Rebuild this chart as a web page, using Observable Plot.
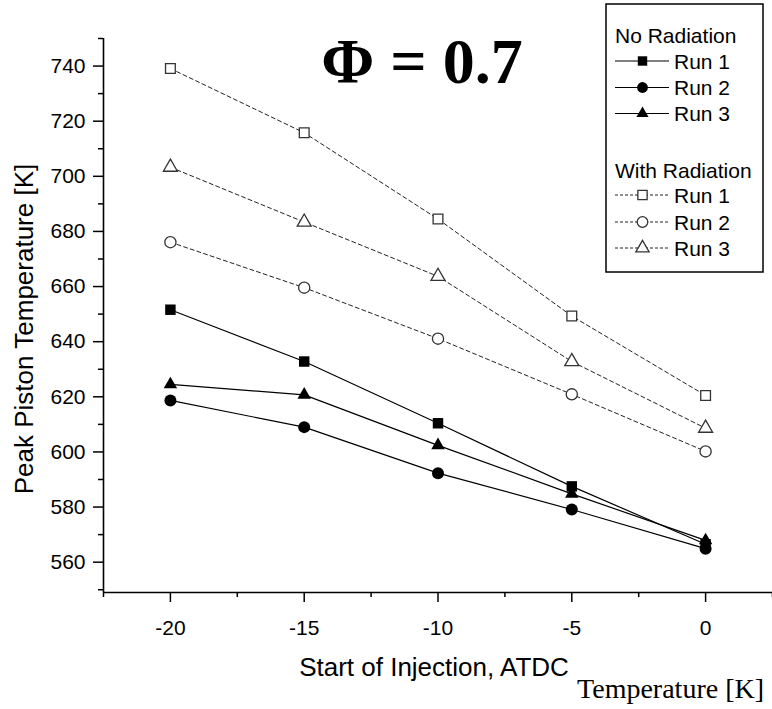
<!DOCTYPE html>
<html>
<head>
<meta charset="utf-8">
<script src="https://cdn.jsdelivr.net/npm/d3@7"></script>
<script src="https://cdn.jsdelivr.net/npm/@observablehq/plot@0.6"></script>
<style>
  html, body { margin: 0; padding: 0; background: white; }
  #wrap { position: relative; width: 772px; height: 709px; }
  #wrap > svg { position: absolute; left: 0; top: 0; }
</style>
</head>
<body>
<div id="wrap"></div>
<script>
// ---- data ----
const xs = [-20, -15, -10, -5, 0];
const noRad1 = [651.6, 632.8, 610.4, 587.5, 566.5];
const noRad2 = [618.7, 609.0, 592.3, 579.1, 564.9];
const noRad3 = [624.5, 620.7, 602.4, 584.8, 567.9];
const rad1 = [739.1, 715.8, 684.5, 649.3, 620.5];
const rad2 = [676.1, 659.6, 641.1, 620.9, 600.2];
const rad3 = [703.3, 683.4, 663.7, 632.8, 608.6];
const runs = ["Run 1", "Run 2", "Run 3"];
const groups = ["No Radiation", "With Radiation"];
const yMajor = [560, 580, 600, 620, 640, 660, 680, 700, 720, 740];
const yMinor = [550, 570, 590, 610, 630, 650, 670, 690, 710, 730, 750];
const xMajor = [-20, -15, -10, -5, 0];
const xMinor = [-22.5, -17.5, -12.5, -7.5, -2.5, 2.5];
const xDomain = [-22.5, 2.5];
const yDomain = [549, 750];
const titleText = "Φ = 0.7";
const xLabel = "Start of Injection, ATDC";
const yLabel = "Peak Piston Temperature [K]";
const captionText = "Temperature [K]";

const series = [
  {group: groups[0], run: runs[0], values: noRad1},
  {group: groups[0], run: runs[1], values: noRad2},
  {group: groups[0], run: runs[2], values: noRad3},
  {group: groups[1], run: runs[0], values: rad1},
  {group: groups[1], run: runs[1], values: rad2},
  {group: groups[1], run: runs[2], values: rad3}
];
const table = series.flatMap(s => s.values.map((v, i) => ({group: s.group, run: s.run, x: xs[i], y: v})));

const symbolOf = {"Run 1": "square", "Run 2": "circle", "Run 3": "triangle"};
const rFilled = {"Run 1": 5.9, "Run 2": 6, "Run 3": 5};
const rOpen = {"Run 1": 5.5, "Run 2": 5.6, "Run 3": 5.2};

const noRad = table.filter(d => d.group === groups[0]);
const withRad = table.filter(d => d.group === groups[1]);

const marks = [
  Plot.ruleX([xDomain[0]], {stroke: "black", strokeWidth: 1.6}),
  Plot.ruleY([yDomain[0]], {stroke: "black", strokeWidth: 1.6}),
  Plot.axisY({ticks: yMajor, tickSize: 10, tickPadding: 8, strokeWidth: 1.5, label: null, tickFormat: d => String(d)}),
  Plot.axisY({ticks: yMinor, tickSize: 5, strokeWidth: 1.5, label: null, tickFormat: () => ""}),
  Plot.axisX({ticks: xMajor, tickSize: 10, tickPadding: 18, strokeWidth: 1.5, label: null, tickFormat: d => String(d)}),
  Plot.axisX({ticks: xMinor, tickSize: 5, strokeWidth: 1.5, label: null, tickFormat: () => ""}),
  Plot.line(withRad, {x: "x", y: "y", z: "run", stroke: "#222", strokeWidth: 1, strokeDasharray: "4,3"}),
  Plot.line(noRad, {x: "x", y: "y", z: "run", stroke: "black", strokeWidth: 1.2})
];
for (const run of runs) {
  marks.push(Plot.dot(withRad.filter(d => d.run === run), {
    x: "x", y: "y", symbol: symbolOf[run], r: rOpen[run], fill: "white", stroke: "#333", strokeWidth: 1.3
  }));
}
for (const run of runs) {
  marks.push(Plot.dot(noRad.filter(d => d.run === run), {
    x: "x", y: "y", symbol: symbolOf[run], r: rFilled[run], fill: "black", stroke: "none"
  }));
}

const chart = Plot.plot({
  width: 772,
  height: 709,
  marginTop: 38,
  marginRight: 0,
  marginBottom: 117,
  marginLeft: 103,
  x: {domain: xDomain},
  y: {domain: yDomain},
  style: {fontFamily: "'Liberation Sans', Arial, sans-serif", fontSize: "21px", background: "white", color: "black", overflow: "visible"},
  marks
});
const wrap = document.getElementById("wrap");
wrap.appendChild(chart);

// ---- overlay: title, labels, legend ----
const ov = d3.select(wrap).append("svg")
  .attr("width", 772).attr("height", 709)
  .style("pointer-events", "none");

const sans = "'Liberation Sans', Arial, sans-serif";
const serif = "'Liberation Serif', 'Times New Roman', serif";

ov.append("text").text(titleText)
  .attr("x", 422).attr("y", 83).attr("text-anchor", "middle")
  .attr("font-family", serif).attr("font-weight", "bold").attr("font-size", 64);

ov.append("text").text(yLabel)
  .attr("transform", "translate(33,329) rotate(-90)").attr("text-anchor", "middle")
  .attr("font-family", sans).attr("font-size", 26);

ov.append("text").text(xLabel)
  .attr("x", 434).attr("y", 676).attr("text-anchor", "middle")
  .attr("font-family", sans).attr("font-size", 26);

ov.append("text").text(captionText)
  .attr("x", 764).attr("y", 698).attr("text-anchor", "end")
  .attr("font-family", serif).attr("font-size", 28);

// legend
const lg = ov.append("g");
lg.append("rect").attr("x", 606).attr("y", 4).attr("width", 157).attr("height", 268)
  .attr("fill", "white").attr("stroke", "black").attr("stroke-width", 1.5);

const headerY = [43, 178];
const rowY = [[61, 87.5, 113.5], [195, 222, 248]];
groups.forEach((g, gi) => {
  lg.append("text").text(g).attr("x", 615).attr("y", headerY[gi])
    .attr("font-family", sans).attr("font-size", 21);
  runs.forEach((run, ri) => {
    const cy = rowY[gi][ri];
    const filled = gi === 0;
    lg.append("line").attr("x1", 615).attr("x2", 669).attr("y1", cy).attr("y2", cy)
      .attr("stroke", filled ? "black" : "#222").attr("stroke-width", filled ? 1.2 : 1)
      .attr("stroke-dasharray", filled ? null : "3,2");
    const r = filled ? rFilled[run] * 0.9 : rOpen[run] * 0.95;
    const sym = {square: d3.symbolSquare, circle: d3.symbolCircle, triangle: d3.symbolTriangle}[symbolOf[run]];
    lg.append("path").attr("d", d3.symbol(sym, Math.PI * r * r)())
      .attr("transform", `translate(642.5,${cy})`)
      .attr("fill", filled ? "black" : "white")
      .attr("stroke", filled ? "none" : "#333").attr("stroke-width", 1.3);
    lg.append("text").text(run).attr("x", 674).attr("y", cy + 7.5)
      .attr("font-family", sans).attr("font-size", 21);
  });
});
</script>
</body>
</html>
